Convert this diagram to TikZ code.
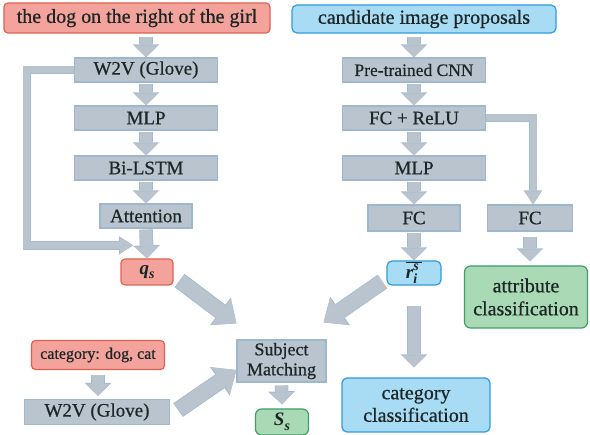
\documentclass[tikz,border=0pt]{standalone}
\usepackage{fontspec}
\setmainfont{Liberation Serif}[UprightFeatures={FakeBold=0.6}]
\usetikzlibrary{arrows.meta,calc}

\definecolor{boxfill}{HTML}{B9C4CF}
\definecolor{boxline}{HTML}{9DB7CD}
\definecolor{arrfill}{HTML}{BAC4CE}
\definecolor{arrline}{HTML}{A2BAD0}
\definecolor{redfill}{HTML}{F3A39B}
\definecolor{redline}{HTML}{E0604F}
\definecolor{bluefill}{HTML}{A8DCF5}
\definecolor{blueline}{HTML}{2E9BE0}
\definecolor{greenfill}{HTML}{AAD9B5}
\definecolor{greenline}{HTML}{409D68}
\definecolor{ink}{HTML}{1C2626}

%% small index letters in text mode
\newcommand{\idx}[1]{{\fontsize{14}{14}\selectfont\bfseries\itshape #1}}

\tikzset{
	box/.style={draw=boxline, fill=boxfill, line width=1.2pt, inner sep=0pt, text=ink, align=center, font=\fontsize{19}{21}\selectfont},
	redbox/.style={box, draw=redline, fill=redfill, rounded corners=4pt},
	bluebox/.style={box, draw=blueline, fill=bluefill, rounded corners=5pt},
	greenbox/.style={box, draw=greenline, fill=greenfill, rounded corners=6pt},
	flowarrow/.style={draw=arrfill, line width=12pt, -{Triangle[width=24pt,length=12pt,line width=0pt]},
		preaction={draw=arrline, line width=13.6pt, -{Triangle[width=26.6pt,length=13pt,line width=0pt]}}},
	bigarrow/.style={draw=arrfill, line width=15pt, -{Triangle[width=32pt,length=19pt,line width=0pt]},
		preaction={draw=arrline, line width=16.6pt, -{Triangle[width=34.6pt,length=20pt,line width=0pt]}}},
	backarrow/.style={draw=arrfill, line width=7pt, -{Triangle[width=16pt,length=13pt,line width=0pt]},
		preaction={draw=arrline, line width=8.6pt, -{Triangle[width=18.6pt,length=14pt,line width=0pt]}}},
}

\begin{document}
\begin{tikzpicture}[x=1pt, y=-1pt]

	\useasboundingbox[fill=white] (0,0) rectangle (590,435);

	%% The sentence branch
	\node[redbox, minimum width=266pt, minimum height=30pt, font=\fontsize{20}{22}\selectfont] (query) at (137,18) {the dog on the right of the girl};
	\node[box, minimum width=143pt, minimum height=24pt] (w2v)  at (146,70)  {W2V (Glove)};
	\node[box, minimum width=143pt, minimum height=24pt] (mlp)  at (146,118) {MLP};
	\node[box, minimum width=143pt, minimum height=24pt] (lstm) at (146,168) {Bi-LSTM};
	\node[box, minimum width=92pt,  minimum height=24pt] (att)  at (146,216) {Attention};
	\node[redbox, minimum width=52pt, minimum height=26pt] (qs) at (147,272) {\bfseries\itshape q\raisebox{-0.25em}{\idx{s}}};

	%% The image branch
	\node[bluebox, minimum width=264pt, minimum height=28pt, font=\fontsize{20}{22}\selectfont] (cand) at (424,19) {candidate image proposals};
	\node[box, minimum width=143pt, minimum height=24pt, font=\fontsize{17.5}{20}\selectfont] (cnn) at (414,70) {Pre-trained CNN};
	\node[box, minimum width=143pt, minimum height=24pt] (fcr)  at (414,118) {FC + ReLU};
	\node[box, minimum width=143pt, minimum height=24pt] (mlp2) at (414,168) {MLP};
	\node[box, minimum width=92pt,  minimum height=26pt] (fc)   at (414,218) {FC};
	\node[box, minimum width=85pt,  minimum height=26pt] (fc2)  at (530,218) {FC};
	\node[bluebox, minimum width=54pt, minimum height=24pt] (ri) at (414,273)
		{\rlap{\rule[0.8em]{0.85em}{1pt}}\bfseries\itshape r\rlap{\raisebox{0.42em}{\idx{s}}}\raisebox{-0.3em}{\idx{i}}\hspace{0.25em}};
	\node[greenbox, minimum width=123pt, minimum height=62pt, font=\fontsize{20}{23}\selectfont] (attr) at (526,297) {attribute\\classification};
	\node[bluebox, minimum width=148pt, minimum height=54pt, font=\fontsize{20}{22.5}\selectfont] (catcls) at (416,405) {category\\classification};

	%% The category branch and the matching
	\node[redbox, minimum width=133pt, minimum height=29pt, font=\fontsize{16}{18}\selectfont] (catq) at (98,355) {category: dog, cat};
	\node[box, minimum width=145pt, minimum height=25pt] (w2v2) at (97,412) {W2V (Glove)};
	\node[box, minimum width=89pt, minimum height=42pt, font=\fontsize{18}{20}\selectfont] (subj) at (281.5,361) {Subject\\Matching};
	\node[greenbox, minimum width=53pt, minimum height=26pt] (ss) at (282,422) {\bfseries\itshape S\raisebox{-0.25em}{\idx{s}}};

	%% Straight arrows
	\draw[flowarrow] ([yshift=-3pt]query.south -| w2v.north) -- (w2v.north);
	\draw[flowarrow] ([yshift=-1pt]w2v.south) -- (mlp.north);
	\draw[flowarrow] ([yshift=-1pt]mlp.south) -- (lstm.north);
	\draw[flowarrow] ([yshift=-1pt]lstm.south) -- (att.north);
	\draw[flowarrow] ([yshift=-1pt]att.south) -- (qs.north);
	\draw[flowarrow] ([yshift=-3pt]cand.south -| cnn.north) -- (cnn.north);
	\draw[flowarrow] ([yshift=-1pt]cnn.south) -- (fcr.north);
	\draw[flowarrow] ([yshift=-1pt]fcr.south) -- (mlp2.north);
	\draw[flowarrow] ([yshift=-1pt]mlp2.south) -- (fc.north);
	\draw[flowarrow] ([yshift=-1pt]fc.south) -- (ri.north);
	\draw[flowarrow] ([yshift=-5pt]fc2.south) -- ([yshift=4pt]attr.north -| fc2.south);
	\draw[flowarrow] ([yshift=-20pt]ri.south) -- ([yshift=10pt]catcls.north -| ri.south);
	\draw[flowarrow] ([yshift=-5pt]catq.south) -- ([yshift=3pt]catq.south |- w2v2.north);
	\draw[flowarrow] ([yshift=-3pt]subj.south) -- ([yshift=4pt]ss.north);

	%% Skip connections
	\coordinate (fbin) at ($(qs.north)+(-14,-13)$);
	\draw[backarrow] (w2v.west) -- ++(-47,0) |- (fbin);
	\draw[backarrow] (fcr.east) -| ([xshift=3pt]fc2.north);

	%% Into the matching
	\draw[bigarrow] ($(qs.south east)+(6,-5)$) -- ($(subj.north west)+(0,-16)$);
	\draw[bigarrow] ($(ri.south west)+(-4,-4)$) -- ($(subj.north east)+(-3,-17)$);
	\draw[bigarrow] ($(w2v2.east)+(8,-2)$) -- ($(subj.west)+(0,9)$);

\end{tikzpicture}
\end{document}
